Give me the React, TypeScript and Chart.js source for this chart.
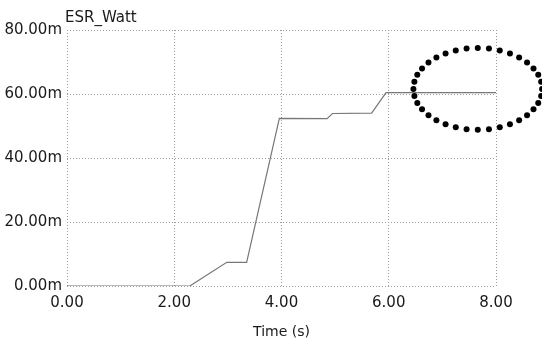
import React, { useEffect, useRef } from "react";
import { Chart, registerables } from "chart.js";

Chart.register(...registerables);

const timeValues = [0, 2.29, 2.98, 3.35, 3.96, 4.85, 4.95, 5.68, 5.95, 8.0];
const wattValues = [0, 0, 7.4, 7.4, 52.4, 52.3, 53.9, 54.0, 60.4, 60.4];
const xTicks = [0, 2, 4, 6, 8];
const yTicks = [0, 20, 40, 60, 80];
const seriesName = "ESR_Watt";
const xTitle = "Time (s)";

const FONT = "'DejaVu Sans', sans-serif";

const decorPlugin = {
  id: "decor",
  afterDraw(chart: any) {
    const { ctx, chartArea, scales } = chart;
    ctx.save();
    ctx.fillStyle = "#1a1a1a";
    ctx.font = `15px ${FONT}`;
    ctx.textBaseline = "alphabetic";
    ctx.textAlign = "left";
    ctx.fillText(seriesName, chartArea.left - 2, 22);
    // highlight ellipse around the final plateau
    const cx = scales.x.getPixelForValue(7.66);
    const cy = scales.y.getPixelForValue(61.6);
    const rx = Math.abs(scales.x.getPixelForValue(7.66 + 1.2) - cx);
    const ry = Math.abs(scales.y.getPixelForValue(61.6 + 12.8) - cy);
    const n = 36;
    ctx.fillStyle = "#000";
    for (let i = 0; i < n; i++) {
      const a = (i / n) * Math.PI * 2;
      ctx.beginPath();
      ctx.arc(cx + rx * Math.cos(a), cy + ry * Math.sin(a), 3, 0, Math.PI * 2);
      ctx.fill();
    }
    ctx.restore();
  },
};

export default function App() {
  const ref = useRef<HTMLCanvasElement>(null);
  useEffect(() => {
    document.body.style.margin = "0";
    const canvas = ref.current!;
    const chart = new Chart(canvas, {
      type: "line",
      data: {
        datasets: [
          {
            label: seriesName,
            data: timeValues.map((t, i) => ({ x: t, y: wattValues[i] })),
            borderColor: "#777",
            borderWidth: 1.2,
            pointRadius: 0,
            tension: 0,
            fill: false,
          },
        ],
      },
      options: {
        animation: false,
        responsive: false,
        maintainAspectRatio: false,
        layout: { padding: { top: 30, right: 46, left: 0, bottom: 0 } },
        plugins: { legend: { display: false }, title: { display: false }, tooltip: { enabled: false } },
        scales: {
          x: {
            type: "linear",
            min: 0,
            max: 8,
            afterBuildTicks: (s: any) => {
              s.ticks = xTicks.map((v) => ({ value: v }));
            },
            afterFit: (s: any) => {
              s.height = 58;
            },
            ticks: {
              color: "#1a1a1a",
              font: { family: FONT, size: 15 },
              padding: 8,
              maxRotation: 0,
              callback: (v: any) => Number(v).toFixed(2),
            },
            grid: { color: "#9a9a9a", lineWidth: 1, drawTicks: false },
            border: { display: false, dash: [1, 2] },
            title: {
              display: true,
              text: xTitle,
              color: "#1a1a1a",
              font: { family: FONT, size: 14 },
              padding: { top: 0, bottom: 3 },
            },
          },
          y: {
            min: 0,
            max: 80,
            afterBuildTicks: (s: any) => {
              s.ticks = yTicks.map((v) => ({ value: v }));
            },
            afterFit: (s: any) => {
              s.width = 67;
            },
            ticks: {
              color: "#1a1a1a",
              font: { family: FONT, size: 15 },
              padding: 5,
              callback: (v: any) => Number(v).toFixed(2) + "m",
            },
            grid: { color: "#9a9a9a", lineWidth: 1, drawTicks: false },
            border: { display: false, dash: [1, 2] },
          },
        },
      },
      plugins: [decorPlugin],
    });
    return () => chart.destroy();
  }, []);
  return <canvas ref={ref} width={542} height={344} style={{ display: "block", width: 542, height: 344 }} />;
}
